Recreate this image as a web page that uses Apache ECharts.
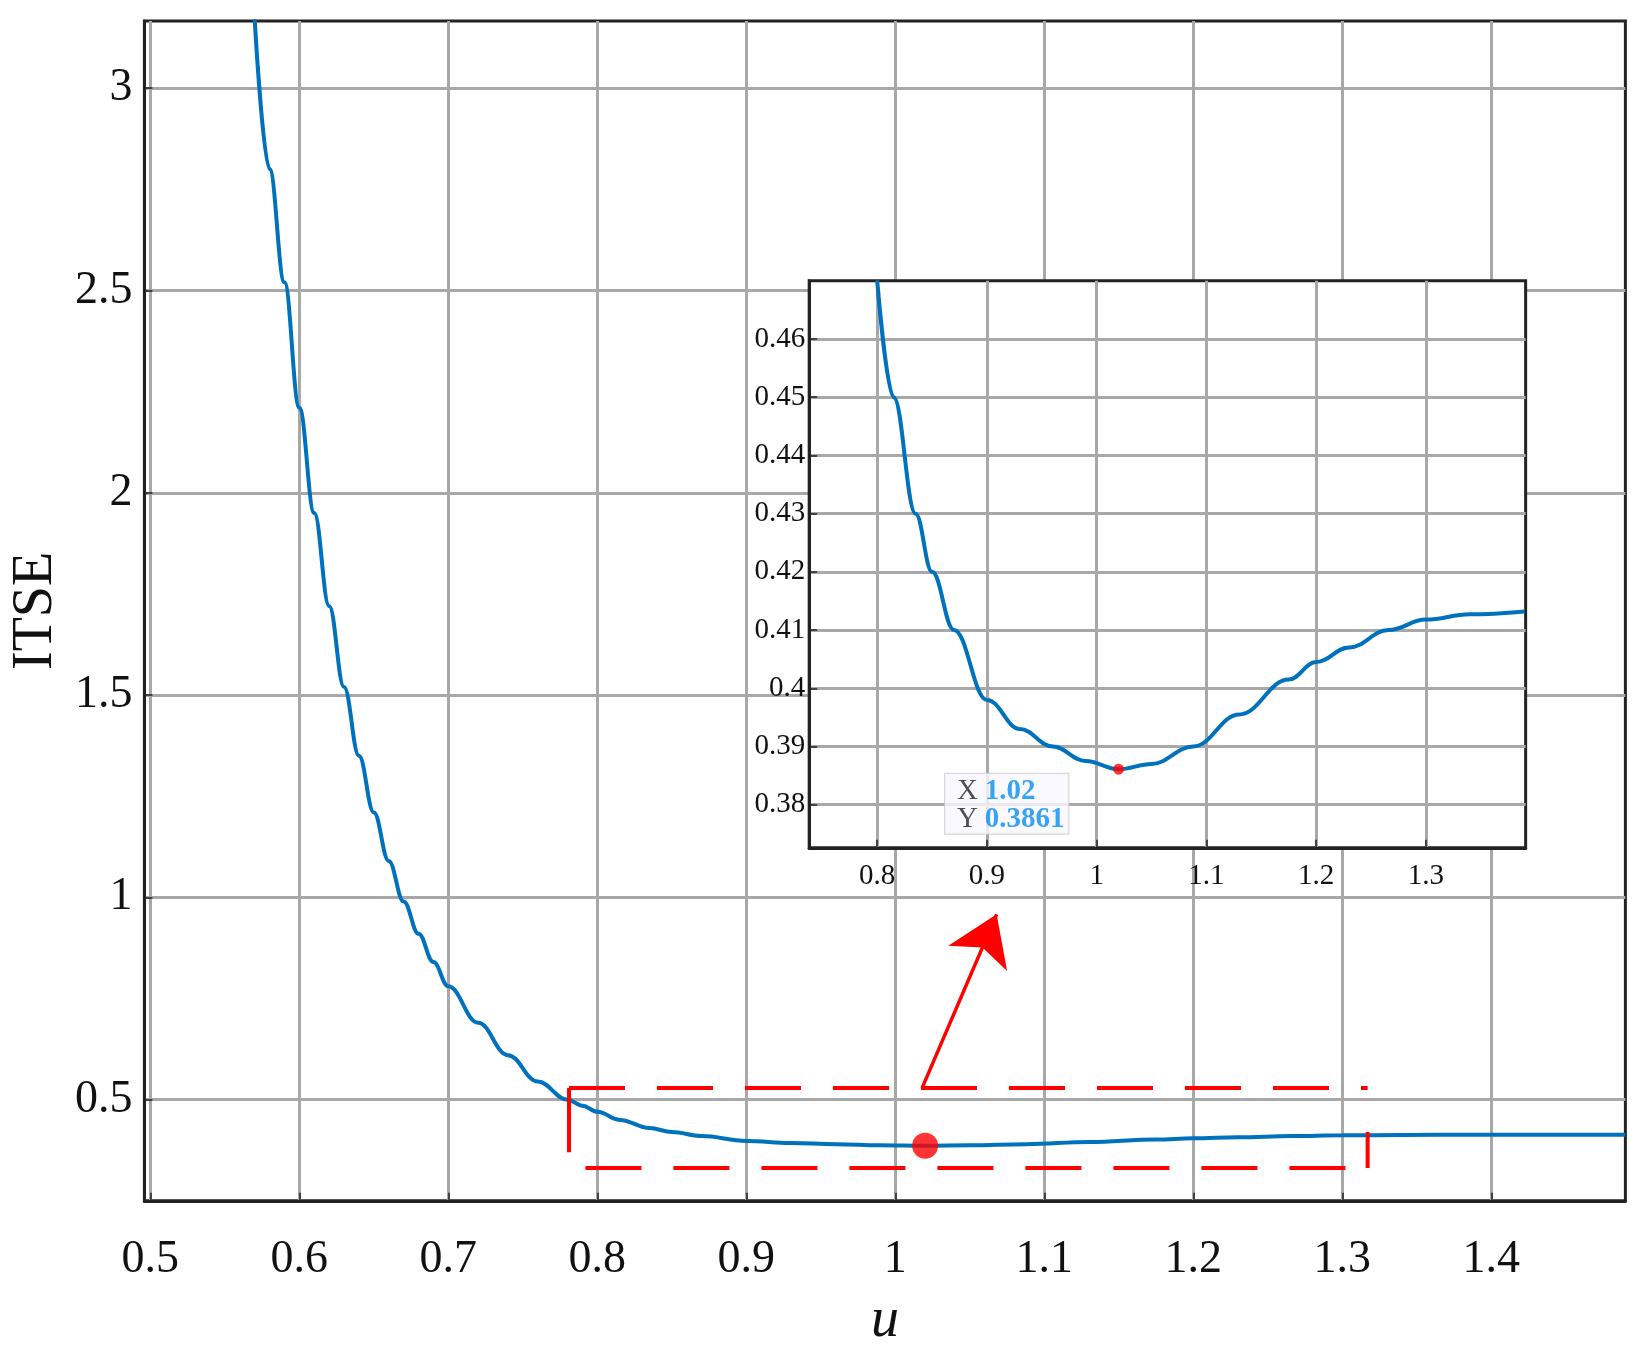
<!DOCTYPE html>
<html><head><meta charset="utf-8">
<script src="https://cdn.jsdelivr.net/npm/echarts@6/dist/echarts.min.js"></script>
<style>html,body{margin:0;background:#fff}#c{width:1638px;height:1363px}</style>
</head><body><div id="c"></div>
<script>
// curve (u, ITSE)
const uMain = [0.57, 0.58, 0.59, 0.60, 0.61, 0.62, 0.63, 0.64, 0.65, 0.66, 0.67, 0.68, 0.69, 0.70, 0.72, 0.74, 0.76, 0.78, 0.79];
const itseMain = [3.17, 2.80, 2.52, 2.21, 1.95, 1.72, 1.52, 1.35, 1.21, 1.09, 0.99, 0.91, 0.84, 0.78, 0.69, 0.61, 0.545, 0.50, 0.485];
const uLow = [0.80, 0.815, 0.835, 0.85, 0.87, 0.90, 0.93, 0.96, 0.99, 1.02, 1.05, 1.088, 1.13, 1.175, 1.20, 1.23, 1.266, 1.30, 1.34, 1.39, 1.49];
const itseLow = [0.470, 0.450, 0.430, 0.420, 0.410, 0.398, 0.393, 0.390, 0.3875, 0.3861, 0.387, 0.390, 0.3955, 0.4015, 0.4045, 0.407, 0.410, 0.4118, 0.4127, 0.4132, 0.4135];
const minPoint = [1.02, 0.3861];

const mainXTicks = [0.5, 0.6, 0.7, 0.8, 0.9, 1, 1.1, 1.2, 1.3, 1.4];
const mainYTicks = [0.5, 1, 1.5, 2, 2.5, 3];
const insetXTicks = [0.8, 0.9, 1, 1.1, 1.2, 1.3];
const insetYTicks = [0.38, 0.39, 0.4, 0.41, 0.42, 0.43, 0.44, 0.45, 0.46];

// zoom box and arrow in main axes
const boxLeft = [[0.781, 0.37], [0.781, 0.529]];
const boxTop = [[0.781, 0.529], [1.317, 0.529]];
const boxBottom = [[0.792, 0.331], [1.317, 0.331]];
const boxRight = [[1.317, 0.331], [1.317, 0.42]];
const arrowPath = [[1.018, 0.529], [1.068, 0.958]];

const curve = uMain.map((u, i) => [u, itseMain[i]]).concat(uLow.map((u, i) => [u, itseLow[i]]));
const insetCurve = uLow.map((u, i) => [u, itseLow[i]]).filter(p => p[0] <= 1.40);

const font = 'Liberation Serif';
const gridLine = { lineStyle: { color: '#a8a8a8', width: 3 } };

function valAxis(idx, min, max, ticks, size, extra) {
    return Object.assign({
        type: 'value', gridIndex: idx, min: min, max: max,
        axisLine: { show: true, lineStyle: { color: '#222', width: 3 } },
        axisTick: { show: true, inside: true, length: 8, customValues: ticks, lineStyle: { color: '#222', width: 1.5 } },
        axisLabel: { customValues: ticks, color: '#111', fontFamily: font, fontSize: size },
        splitLine: Object.assign({ show: true }, gridLine)
    }, extra || {});
}

const redLine = (data, dashed) => ({
    type: 'line', xAxisIndex: 0, yAxisIndex: 0, data: data, symbol: 'none', silent: true,
    lineStyle: { color: '#ff0000', width: 4, type: dashed ? [56, 32] : 'solid' }, z: 5
});

const chart = echarts.init(document.getElementById('c'));
chart.setOption({
    animation: false,
    grid: [
        { left: '8.33%', right: '0.77%', top: '1.54%', bottom: '11.9%', show: true, borderColor: '#222', borderWidth: 3 },
        { left: '49.4%', right: '6.86%', top: '20.6%', bottom: '37.8%', show: true, borderColor: '#222', borderWidth: 3, backgroundColor: '#fff', z: 10 }
    ],
    xAxis: [
        valAxis(0, 0.496, 1.49, mainXTicks, 46, { name: 'u', nameLocation: 'middle', nameGap: 92,
            nameTextStyle: { fontFamily: font, fontStyle: 'italic', fontSize: 56, color: '#111' },
            axisLabel: { customValues: mainXTicks, color: '#111', fontFamily: font, fontSize: 46, margin: 36 } }),
        valAxis(1, 0.738, 1.391, insetXTicks, 29, { z: 11,
            axisLabel: { customValues: insetXTicks, color: '#111', fontFamily: font, fontSize: 29, margin: 14 } })
    ],
    yAxis: [
        valAxis(0, 0.25, 3.166, mainYTicks, 46, { name: 'ITSE', nameLocation: 'middle', nameGap: 78,
            nameTextStyle: { fontFamily: font, fontSize: 56, color: '#111' },
            axisLabel: { customValues: mainYTicks, color: '#111', fontFamily: font, fontSize: 46, margin: 12 } }),
        valAxis(1, 0.3726, 0.470, insetYTicks, 29, { z: 11,
            axisLabel: { customValues: insetYTicks, color: '#111', fontFamily: font, fontSize: 29, margin: 4, formatter: v => String(+v.toFixed(2)) } })
    ],
    series: [
        { type: 'line', xAxisIndex: 0, yAxisIndex: 0, data: curve, smooth: 0.4, smoothMonotone: 'x', symbol: 'none',
          lineStyle: { color: '#0072BD', width: 4 }, z: 3 },
        { type: 'scatter', xAxisIndex: 0, yAxisIndex: 0, data: [minPoint], symbolSize: 26,
          itemStyle: { color: '#ff0000' }, z: 6 },
        redLine(boxLeft, false), redLine(boxTop, true), redLine(boxBottom, true), redLine(boxRight, false),
        { type: 'lines', coordinateSystem: 'cartesian2d', xAxisIndex: 0, yAxisIndex: 0, silent: true, z: 6,
          symbol: ['none', 'arrow'], symbolSize: 48,
          lineStyle: { color: '#ff0000', width: 3.5, opacity: 1 },
          data: [{ coords: arrowPath }] },
        { type: 'line', xAxisIndex: 1, yAxisIndex: 1, data: insetCurve, smooth: 0.4, smoothMonotone: 'x', symbol: 'none',
          lineStyle: { color: '#0072BD', width: 4 }, z: 12 },
        { type: 'scatter', xAxisIndex: 1, yAxisIndex: 1, data: [minPoint], symbolSize: 11,
          itemStyle: { color: '#ff0000' }, z: 14,
          label: { show: true, position: [-168, 10], align: 'left', verticalAlign: 'top',
            formatter: '{k|X}  {v|' + minPoint[0] + '}\n{k|Y}  {v|' + minPoint[1] + '}',
            backgroundColor: '#f7f8ff', borderColor: '#ccc', borderWidth: 1, padding: [4, 4, 0, 12],
            rich: { k: { fontFamily: font, fontSize: 29, color: '#222', lineHeight: 28 },
                    v: { fontFamily: font, fontSize: 29, fontWeight: 'bold', color: '#0a8cf0', lineHeight: 28 } } } }
    ]
});
</script></body></html>
